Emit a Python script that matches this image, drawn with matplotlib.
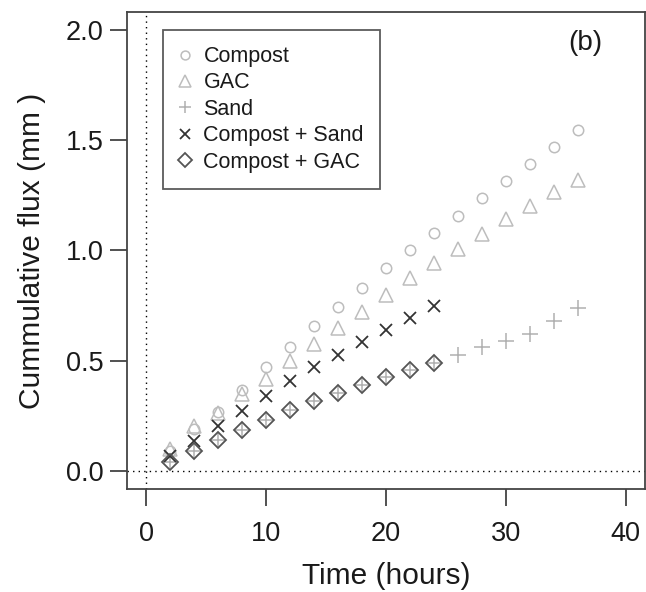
import matplotlib
matplotlib.use("Agg")
import matplotlib.pyplot as plt

plt.rcParams['font.family'] = ['Liberation Sans', 'DejaVu Sans']

time = [2, 4, 6, 8, 10, 12, 14, 16, 18, 20, 22, 24, 26, 28, 30, 32, 34, 36]
compost = [0.09, 0.19, 0.27, 0.368, 0.47, 0.565, 0.656, 0.745, 0.83, 0.92,
           1.00, 1.08, 1.156, 1.236, 1.315, 1.39, 1.47, 1.545]
gac = [0.10, 0.205, 0.265, 0.348, 0.42, 0.50, 0.577, 0.65, 0.72, 0.796,
       0.877, 0.945, 1.007, 1.074, 1.14, 1.20, 1.265, 1.32]
sand = [0.043, 0.094, 0.142, 0.188, 0.231, 0.277, 0.317, 0.354, 0.39, 0.425,
        0.459, 0.491, 0.527, 0.562, 0.59, 0.62, 0.68, 0.74]
time_mix = [2, 4, 6, 8, 10, 12, 14, 16, 18, 20, 22, 24]
compost_sand = [0.068, 0.137, 0.205, 0.274, 0.342, 0.41, 0.47, 0.527, 0.585,
                0.64, 0.693, 0.748]
compost_gac = [0.043, 0.094, 0.142, 0.188, 0.231, 0.277, 0.317, 0.354, 0.39,
               0.425, 0.459, 0.491]

labels = ["Compost", "GAC", "Sand", "Compost + Sand", "Compost + GAC"]
xticks = [0, 10, 20, 30, 40]
yticks = [0.0, 0.5, 1.0, 1.5, 2.0]

fig = plt.figure(figsize=(6.46, 5.92), dpi=100)
ax = fig.add_axes([0.197, 0.174, 0.801, 0.806])

ax.axvline(0, color='black', linestyle=(0, (1, 3)), linewidth=1.0, zorder=0)
ax.axhline(0, color='black', linestyle=(0, (1, 3)), linewidth=1.0, zorder=0)

ax.plot(time, compost, linestyle='none', marker='o', markersize=7.5,
        markerfacecolor='none', markeredgecolor='#bdbdbd', markeredgewidth=1.1,
        label=labels[0])
ax.plot(time, gac, linestyle='none', marker='^', markersize=10.5,
        markerfacecolor='none', markeredgecolor='#bdbdbd', markeredgewidth=1.1,
        label=labels[1])
ax.plot(time, sand, linestyle='none', marker='+', markersize=11,
        markeredgecolor='#b0b0b0', markeredgewidth=1.1, label=labels[2])
ax.plot(time_mix, compost_sand, linestyle='none', marker='x', markersize=8,
        markeredgecolor='#333333', markeredgewidth=1.3, label=labels[3])
ax.plot(time_mix, compost_gac, linestyle='none', marker='D', markersize=8,
        markerfacecolor='none', markeredgecolor='#555555', markeredgewidth=1.3,
        label=labels[4])

ax.set_xlim(-1.6, 41.6)
ax.set_ylim(-0.08, 2.08)
ax.set_xticks(xticks)
ax.set_yticks(yticks)
ax.set_xticklabels([str(t) for t in xticks])
ax.set_yticklabels([f"{t:.1f}" for t in yticks])
ax.tick_params(direction='out', length=12, width=1.2, colors='#333333',
               labelsize=19.5, labelcolor='#1a1a1a')
ax.tick_params(axis='x', pad=11)
ax.tick_params(axis='y', pad=5)
for s in ax.spines.values():
    s.set_linewidth(1.3)
    s.set_color('#444444')

ax.set_xlabel("Time (hours)", fontsize=21.5, color='#1a1a1a', labelpad=11)
ax.set_ylabel("Cummulative flux (mm )", fontsize=21.5, color='#1a1a1a', labelpad=14)

ax.text(36.6, 1.94, "(b)", fontsize=20, color='#1a1a1a', ha='center', va='center')

leg = ax.legend(loc='upper left', bbox_to_anchor=(0.069, 0.962), fontsize=15.5,
                frameon=True, fancybox=False, edgecolor='#333333',
                handlelength=0.53, handletextpad=0.6, labelspacing=0.25,
                borderpad=0.75, borderaxespad=0, markerscale=0.85)
leg.get_frame().set_linewidth(1.3)
for t in leg.get_texts():
    t.set_color('#1a1a1a')

fig.savefig("out.png", dpi=100)
